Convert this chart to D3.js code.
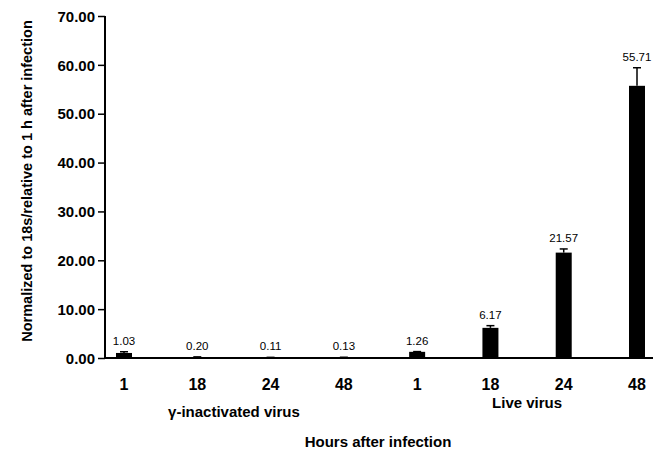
<!DOCTYPE html>
<html>
<head>
<meta charset="utf-8">
<script src="https://cdn.jsdelivr.net/npm/d3@7"></script>
<style>
  body { margin: 0; background: #fff; }
  svg { font-family: Arial, "Liberation Sans", sans-serif; }
</style>
</head>
<body>
<svg id="drawing_region"></svg>
<script>
// hours after infection, two groups of four bars
const hours = ["1", "18", "24", "48", "1", "18", "24", "48"];
const groups = ["γ-inactivated virus", "γ-inactivated virus", "γ-inactivated virus", "γ-inactivated virus",
                "Live virus", "Live virus", "Live virus", "Live virus"];
const values = [1.03, 0.20, 0.11, 0.13, 1.26, 6.17, 21.57, 55.71];
const errors = [0.25, 0.03, 0.02, 0.02, 0.05, 0.45, 0.75, 3.7];
const yTicks = [0, 10, 20, 30, 40, 50, 60, 70];

const config = {
    width: 660,
    height: 453,
    margin: {top: 16, right: 7, bottom: 95, left: 105}
};

const svg = d3.select('#drawing_region')
    .attr('width', config.width)
    .attr('height', config.height);

const innerH = config.height - config.margin.top - config.margin.bottom;

const y = d3.scaleLinear()
    .domain([0, 70])
    .range([config.margin.top + innerH, config.margin.top]);

const x = d3.scalePoint()
    .domain(d3.range(values.length))
    .range([124, 637]);

const barW = 16;
const data = values.map((v, i) => ({i: i, value: v, err: errors[i], hour: hours[i], group: groups[i]}));

// y axis
const yAxis = d3.axisLeft(y)
    .tickValues(yTicks)
    .tickSize(7)
    .tickFormat(d3.format('.2f'));

const gy = svg.append('g')
    .attr('transform', `translate(${config.margin.left},0)`)
    .call(yAxis);
gy.select('.domain').remove();
gy.selectAll('.tick line').attr('stroke', '#000').attr('stroke-width', 1.5);
gy.selectAll('.tick text')
    .attr('x', -10)
    .attr('dy', '0.35em')
    .attr('font-size', '15px')
    .attr('font-weight', 'bold')
    .attr('fill', '#000')
    .attr('font-family', 'Arial, "Liberation Sans", sans-serif');

// axis lines
svg.append('line')
    .attr('x1', config.margin.left).attr('x2', config.margin.left)
    .attr('y1', y(70)).attr('y2', y(0))
    .attr('stroke', '#000').attr('stroke-width', 2);
svg.append('line')
    .attr('x1', config.margin.left).attr('x2', 653)
    .attr('y1', y(0)).attr('y2', y(0))
    .attr('stroke', '#000').attr('stroke-width', 2);

// bars
svg.selectAll('rect.bar')
    .data(data)
    .enter()
    .append('rect')
    .attr('class', 'bar')
    .attr('x', d => x(d.i) - barW / 2)
    .attr('y', d => y(d.value))
    .attr('width', barW)
    .attr('height', d => y(0) - y(d.value))
    .attr('fill', '#000');

// error bars
const eb = svg.selectAll('g.err')
    .data(data)
    .enter()
    .append('g')
    .attr('class', 'err');
eb.append('line')
    .attr('x1', d => x(d.i)).attr('x2', d => x(d.i))
    .attr('y1', d => y(d.value)).attr('y2', d => y(d.value + d.err))
    .attr('stroke', '#000').attr('stroke-width', 1.5);
eb.append('line')
    .attr('x1', d => x(d.i) - 4).attr('x2', d => x(d.i) + 4)
    .attr('y1', d => y(d.value + d.err)).attr('y2', d => y(d.value + d.err))
    .attr('stroke', '#000').attr('stroke-width', 1.5);

// value labels
svg.selectAll('text.val')
    .data(data)
    .enter()
    .append('text')
    .attr('class', 'val')
    .attr('x', d => x(d.i))
    .attr('y', d => y(d.value + d.err) - 7)
    .attr('text-anchor', 'middle')
    .attr('font-size', '11.5px')
    .attr('fill', '#000')
    .text(d => d.value.toFixed(2));

// hour labels
svg.selectAll('text.hour')
    .data(data)
    .enter()
    .append('text')
    .attr('class', 'hour')
    .attr('x', d => x(d.i))
    .attr('y', 390)
    .attr('text-anchor', 'middle')
    .attr('font-size', '16px')
    .attr('font-weight', 'bold')
    .text(d => d.hour);

// group labels
const groupNames = Array.from(new Set(groups));
const groupY = [417, 408];
groupNames.forEach((g, k) => {
    const idx = data.filter(d => d.group === g).map(d => x(d.i));
    svg.append('text')
        .attr('x', (d3.min(idx) + d3.max(idx)) / 2)
        .attr('y', groupY[k])
        .attr('text-anchor', 'middle')
        .attr('font-size', '15px')
        .attr('font-weight', 'bold')
        .text(g);
});

// axis titles
svg.append('text')
    .attr('x', 378)
    .attr('y', 447)
    .attr('text-anchor', 'middle')
    .attr('font-size', '15px')
    .attr('font-weight', 'bold')
    .text('Hours after infection');

svg.append('text')
    .attr('transform', 'translate(32,181) rotate(-90)')
    .attr('text-anchor', 'middle')
    .attr('font-size', '14.5px')
    .attr('font-weight', 'bold')
    .text('Normalized to 18s/relative to 1 h after infection');
</script>
</body>
</html>
